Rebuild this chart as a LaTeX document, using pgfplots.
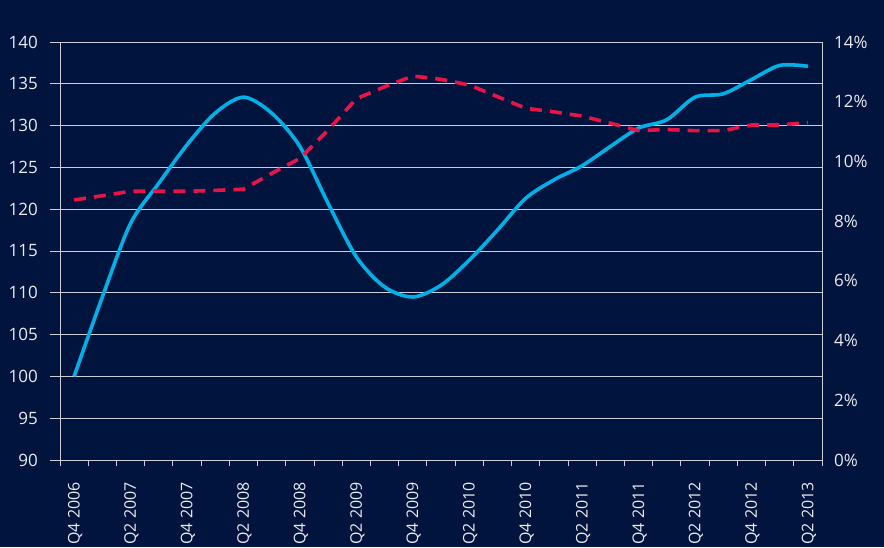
\documentclass[border=0pt]{standalone}
\usepackage{pgfplots}
\pgfplotsset{compat=1.18}
\usepackage{fontspec}
\setmainfont{Open Sans}
\definecolor{bg}{RGB}{0,20,62}
\definecolor{lblue}{RGB}{0,176,230}
\definecolor{lred}{RGB}{232,20,72}
\definecolor{txt}{RGB}{235,235,240}
\definecolor{gridc}{RGB}{205,205,215}
\begin{document}
\begin{tikzpicture}[x=1pt,y=1pt]
\fill[bg] (-60,-87) rectangle (824,460);
\begin{axis}[
  at={(0,0)}, anchor=south west,
  scale only axis, width=762pt, height=418pt,
  xmin=-0.5, xmax=26.5, ymin=90, ymax=140,
  ytick={90,95,...,140},
  xtick={0,2,...,26},
  xticklabels={Q4 2006,Q2 2007,Q4 2007,Q2 2008,Q4 2008,Q2 2009,Q4 2009,Q2 2010,Q4 2010,Q2 2011,Q4 2011,Q2 2012,Q4 2012,Q2 2013},
  minor xtick={-0.5,0.5,...,26.5},
  tick align=outside,
  xtick pos=bottom, ytick pos=left,
  major tick length=10pt, minor tick length=6pt,
  major x tick style={draw=none},
  tick style={gridc, line width=0.8pt},
  ymajorgrids, grid style={gridc, line width=0.8pt},
  axis line style={gridc, line width=0.8pt},
  /pgf/number format/assume math mode=true,
  ticklabel style={txt, font=\fontsize{17}{19}\selectfont},
  x tick label style={rotate=90, anchor=east, inner sep=0pt, xshift=-12pt, yshift=-1pt, font=\fontsize{16}{18}\selectfont},
  y tick label style={anchor=east, inner sep=0pt, xshift=-12pt},
]
\addplot[lblue, line width=3.6pt, smooth] coordinates {
(0,100) (1,109.5) (2,118.3) (3,123.1) (4,127.7) (5,131.5) (6,133.4) (7,131.5) (8,127.5) (9,120.7) (10,114.3) (11,110.7) (12,109.5) (13,110.9) (14,113.9) (15,117.5) (16,121.3) (17,123.5) (18,125.2) (19,127.5) (20,129.7) (21,130.7) (22,133.4) (23,133.8) (24,135.5) (25,137.2) (26,137.1)
};
\end{axis}
\begin{axis}[
  at={(0,0)}, anchor=south west,
  scale only axis, width=762pt, height=418pt,
  xmin=-0.5, xmax=26.5, ymin=0, ymax=14,
  axis y line*=right, axis x line=none,
  ytick={0,2,...,14},
  yticklabel={\pgfmathprintnumber{\tick}\%},
  ytick style={draw=none},
  axis line style={gridc, line width=0.8pt},
  /pgf/number format/assume math mode=true,
  ticklabel style={txt, font=\fontsize{17}{19}\selectfont},
  y tick label style={anchor=west, inner sep=0pt, xshift=12pt},
]
\addplot[lred, line width=3.6pt, dash pattern=on 12pt off 8pt] coordinates {
(0,8.71) (1,8.85) (2,9.0) (3,9.0) (4,9.0) (5,9.03) (6,9.07) (7,9.6) (8,10.1) (9,11.05) (10,12.1) (11,12.5) (12,12.86) (13,12.75) (14,12.56) (15,12.17) (16,11.78) (17,11.66) (18,11.52) (19,11.28) (20,11.03) (21,11.07) (22,11.03) (23,11.03) (24,11.22) (25,11.22) (26,11.3)
};
\end{axis}
\end{tikzpicture}
\end{document}
